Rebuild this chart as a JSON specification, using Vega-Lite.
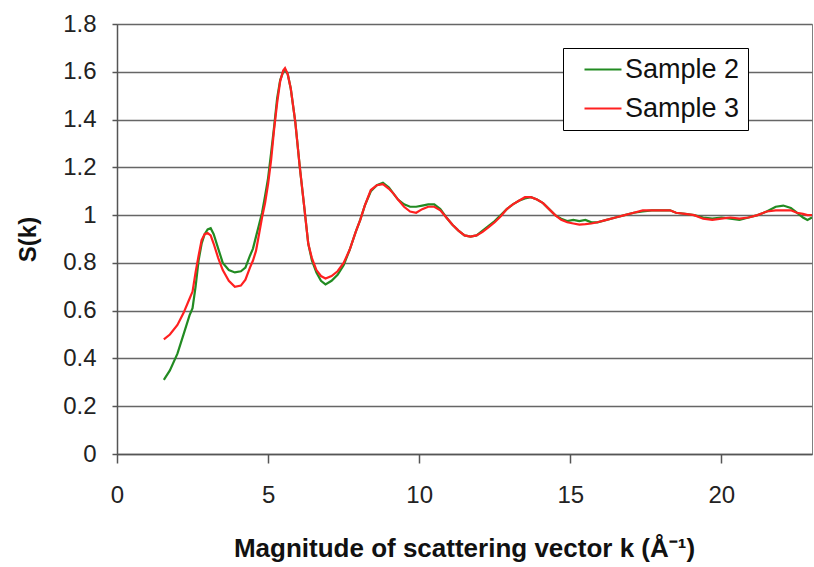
{
  "$schema": "https://vega.github.io/schema/vega-lite/v6.json",
  "width": 695,
  "height": 430,
  "autosize": {"type": "none"},
  "padding": {"left": 117, "top": 24, "right": 2, "bottom": 113},
  "background": "white",
  "config": {"font": "Liberation Sans", "view": {"stroke": "#808080", "strokeWidth": 1}},
  "data": {"values": [
    {"k": 1.55, "Sample 2": 0.31, "Sample 3": 0.48},
    {"k": 1.75, "Sample 2": 0.35, "Sample 3": 0.50},
    {"k": 2.0, "Sample 2": 0.42, "Sample 3": 0.54},
    {"k": 2.2, "Sample 2": 0.50, "Sample 3": 0.59},
    {"k": 2.4, "Sample 2": 0.58, "Sample 3": 0.65},
    {"k": 2.5, "Sample 2": 0.61, "Sample 3": 0.68},
    {"k": 2.6, "Sample 2": 0.70, "Sample 3": 0.76},
    {"k": 2.7, "Sample 2": 0.81, "Sample 3": 0.83},
    {"k": 2.8, "Sample 2": 0.88, "Sample 3": 0.895},
    {"k": 2.9, "Sample 2": 0.92, "Sample 3": 0.92},
    {"k": 3.0, "Sample 2": 0.94, "Sample 3": 0.925},
    {"k": 3.1, "Sample 2": 0.945, "Sample 3": 0.915},
    {"k": 3.2, "Sample 2": 0.92, "Sample 3": 0.88},
    {"k": 3.35, "Sample 2": 0.86, "Sample 3": 0.82},
    {"k": 3.5, "Sample 2": 0.80, "Sample 3": 0.77},
    {"k": 3.7, "Sample 2": 0.77, "Sample 3": 0.725},
    {"k": 3.9, "Sample 2": 0.76, "Sample 3": 0.70},
    {"k": 4.1, "Sample 2": 0.765, "Sample 3": 0.705},
    {"k": 4.25, "Sample 2": 0.78, "Sample 3": 0.73},
    {"k": 4.4, "Sample 2": 0.83, "Sample 3": 0.78},
    {"k": 4.5, "Sample 2": 0.86, "Sample 3": 0.81},
    {"k": 4.6, "Sample 2": 0.91, "Sample 3": 0.85},
    {"k": 4.7, "Sample 2": 0.96, "Sample 3": 0.92},
    {"k": 4.8, "Sample 2": 1.01, "Sample 3": 0.99},
    {"k": 4.9, "Sample 2": 1.08, "Sample 3": 1.05},
    {"k": 5.0, "Sample 2": 1.155, "Sample 3": 1.13},
    {"k": 5.1, "Sample 2": 1.26, "Sample 3": 1.23},
    {"k": 5.2, "Sample 2": 1.37, "Sample 3": 1.36},
    {"k": 5.3, "Sample 2": 1.49, "Sample 3": 1.47},
    {"k": 5.4, "Sample 2": 1.565, "Sample 3": 1.56},
    {"k": 5.5, "Sample 2": 1.60, "Sample 3": 1.605},
    {"k": 5.56, "Sample 2": 1.61, "Sample 3": 1.615},
    {"k": 5.65, "Sample 2": 1.59, "Sample 3": 1.59},
    {"k": 5.75, "Sample 2": 1.53, "Sample 3": 1.53},
    {"k": 5.9, "Sample 2": 1.39, "Sample 3": 1.39},
    {"k": 6.05, "Sample 2": 1.20, "Sample 3": 1.20},
    {"k": 6.2, "Sample 2": 1.03, "Sample 3": 1.03},
    {"k": 6.33, "Sample 2": 0.88, "Sample 3": 0.88},
    {"k": 6.45, "Sample 2": 0.81, "Sample 3": 0.82},
    {"k": 6.6, "Sample 2": 0.76, "Sample 3": 0.77},
    {"k": 6.75, "Sample 2": 0.725, "Sample 3": 0.745},
    {"k": 6.9, "Sample 2": 0.71, "Sample 3": 0.735},
    {"k": 7.1, "Sample 2": 0.725, "Sample 3": 0.745},
    {"k": 7.3, "Sample 2": 0.75, "Sample 3": 0.765},
    {"k": 7.5, "Sample 2": 0.79, "Sample 3": 0.80},
    {"k": 7.7, "Sample 2": 0.855, "Sample 3": 0.855},
    {"k": 7.9, "Sample 2": 0.93, "Sample 3": 0.93},
    {"k": 8.05, "Sample 2": 0.98, "Sample 3": 0.98},
    {"k": 8.2, "Sample 2": 1.04, "Sample 3": 1.04},
    {"k": 8.4, "Sample 2": 1.10, "Sample 3": 1.105},
    {"k": 8.6, "Sample 2": 1.125, "Sample 3": 1.125},
    {"k": 8.8, "Sample 2": 1.135, "Sample 3": 1.13},
    {"k": 9.0, "Sample 2": 1.115, "Sample 3": 1.11},
    {"k": 9.15, "Sample 2": 1.09, "Sample 3": 1.09},
    {"k": 9.3, "Sample 2": 1.065, "Sample 3": 1.065},
    {"k": 9.5, "Sample 2": 1.045, "Sample 3": 1.035},
    {"k": 9.7, "Sample 2": 1.035, "Sample 3": 1.015},
    {"k": 9.9, "Sample 2": 1.035, "Sample 3": 1.01},
    {"k": 10.1, "Sample 2": 1.04, "Sample 3": 1.025},
    {"k": 10.3, "Sample 2": 1.045, "Sample 3": 1.035},
    {"k": 10.5, "Sample 2": 1.045, "Sample 3": 1.035},
    {"k": 10.7, "Sample 2": 1.025, "Sample 3": 1.02},
    {"k": 10.9, "Sample 2": 0.99, "Sample 3": 0.99},
    {"k": 11.1, "Sample 2": 0.96, "Sample 3": 0.96},
    {"k": 11.3, "Sample 2": 0.935, "Sample 3": 0.935},
    {"k": 11.5, "Sample 2": 0.915, "Sample 3": 0.915},
    {"k": 11.7, "Sample 2": 0.91, "Sample 3": 0.91},
    {"k": 11.9, "Sample 2": 0.915, "Sample 3": 0.915},
    {"k": 12.1, "Sample 2": 0.935, "Sample 3": 0.93},
    {"k": 12.3, "Sample 2": 0.955, "Sample 3": 0.95},
    {"k": 12.5, "Sample 2": 0.975, "Sample 3": 0.97},
    {"k": 12.7, "Sample 2": 1.0, "Sample 3": 0.995},
    {"k": 12.9, "Sample 2": 1.025, "Sample 3": 1.025},
    {"k": 13.1, "Sample 2": 1.045, "Sample 3": 1.045},
    {"k": 13.3, "Sample 2": 1.06, "Sample 3": 1.06},
    {"k": 13.5, "Sample 2": 1.07, "Sample 3": 1.075},
    {"k": 13.7, "Sample 2": 1.075, "Sample 3": 1.075},
    {"k": 13.9, "Sample 2": 1.065, "Sample 3": 1.065},
    {"k": 14.1, "Sample 2": 1.05, "Sample 3": 1.05},
    {"k": 14.3, "Sample 2": 1.025, "Sample 3": 1.025},
    {"k": 14.5, "Sample 2": 1.0, "Sample 3": 1.0},
    {"k": 14.7, "Sample 2": 0.985, "Sample 3": 0.98},
    {"k": 14.9, "Sample 2": 0.975, "Sample 3": 0.97},
    {"k": 15.1, "Sample 2": 0.98, "Sample 3": 0.965},
    {"k": 15.3, "Sample 2": 0.975, "Sample 3": 0.96},
    {"k": 15.5, "Sample 2": 0.98, "Sample 3": 0.962},
    {"k": 15.7, "Sample 2": 0.97, "Sample 3": 0.965},
    {"k": 15.9, "Sample 2": 0.97, "Sample 3": 0.97},
    {"k": 16.2, "Sample 2": 0.98, "Sample 3": 0.98},
    {"k": 16.5, "Sample 2": 0.99, "Sample 3": 0.99},
    {"k": 16.8, "Sample 2": 1.0, "Sample 3": 1.0},
    {"k": 17.1, "Sample 2": 1.01, "Sample 3": 1.01},
    {"k": 17.4, "Sample 2": 1.015, "Sample 3": 1.02},
    {"k": 17.7, "Sample 2": 1.02, "Sample 3": 1.02},
    {"k": 18.0, "Sample 2": 1.02, "Sample 3": 1.02},
    {"k": 18.3, "Sample 2": 1.02, "Sample 3": 1.02},
    {"k": 18.5, "Sample 2": 1.01, "Sample 3": 1.01},
    {"k": 18.8, "Sample 2": 1.005, "Sample 3": 1.005},
    {"k": 19.1, "Sample 2": 1.0, "Sample 3": 1.0},
    {"k": 19.4, "Sample 2": 0.99, "Sample 3": 0.985},
    {"k": 19.7, "Sample 2": 0.985, "Sample 3": 0.98},
    {"k": 20.0, "Sample 2": 0.99, "Sample 3": 0.985},
    {"k": 20.3, "Sample 2": 0.985, "Sample 3": 0.99},
    {"k": 20.6, "Sample 2": 0.98, "Sample 3": 0.985},
    {"k": 20.9, "Sample 2": 0.99, "Sample 3": 0.99},
    {"k": 21.2, "Sample 2": 1.0, "Sample 3": 1.0},
    {"k": 21.5, "Sample 2": 1.015, "Sample 3": 1.015},
    {"k": 21.8, "Sample 2": 1.035, "Sample 3": 1.02},
    {"k": 22.05, "Sample 2": 1.04, "Sample 3": 1.02},
    {"k": 22.3, "Sample 2": 1.03, "Sample 3": 1.02},
    {"k": 22.5, "Sample 2": 1.01, "Sample 3": 1.01},
    {"k": 22.7, "Sample 2": 0.99, "Sample 3": 1.005},
    {"k": 22.85, "Sample 2": 0.98, "Sample 3": 1.0},
    {"k": 23.0, "Sample 2": 0.99, "Sample 3": 1.0}
  ]},
  "transform": [{"fold": ["Sample 2", "Sample 3"], "as": ["series", "S"]}],
  "mark": {"type": "line", "strokeWidth": 2.2, "interpolate": "linear", "clip": true},
  "encoding": {
    "x": {
      "field": "k", "type": "quantitative",
      "scale": {"domain": [0, 23], "nice": false, "zero": false},
      "axis": {
        "values": [0, 5, 10, 15, 20], "grid": false, "labelFlush": false,
        "tickSize": 9, "tickColor": "#555", "tickWidth": 1.5,
        "domainColor": "#555", "domainWidth": 1.5,
        "labelFontSize": 24, "labelPadding": 20, "labelColor": "#222",
        "title": "Magnitude of scattering vector k (Å⁻¹)",
        "titleFontSize": 26, "titleFontWeight": "bold", "titleColor": "#111",
        "titleX": 347, "titleY": 94, "titleBaseline": "middle"
      }
    },
    "y": {
      "field": "S", "type": "quantitative",
      "scale": {"domain": [0, 1.8], "nice": false},
      "axis": {
        "values": [0, 0.2, 0.4, 0.6, 0.8, 1, 1.2, 1.4, 1.6, 1.8], "format": "~g",
        "grid": true, "gridColor": "#666", "gridWidth": 1.5,
        "tickSize": 5, "tickColor": "#555", "tickWidth": 1.5,
        "domainColor": "#555", "domainWidth": 1.5,
        "labelFontSize": 24, "labelPadding": 16, "labelColor": "#222",
        "title": "S(k)", "titleFontSize": 24, "titleFontWeight": "bold", "titleColor": "#111",
        "titleX": -89, "titleY": 215, "titleBaseline": "middle", "titleAngle": 270
      }
    },
    "color": {
      "field": "series", "type": "nominal",
      "scale": {"domain": ["Sample 2", "Sample 3"], "range": ["#228B22", "#FF2020"]},
      "legend": {
        "orient": "none", "legendX": 446, "legendY": 24, "title": null,
        "fillColor": "white", "strokeColor": "#000", "padding": 8,
        "symbolType": "M0,0H4", "symbolSize": 342, "symbolStrokeWidth": 2,
        "labelFontSize": 27, "labelOffset": 27, "rowPadding": 11, "labelColor": "#111"
      }
    }
  }
}
